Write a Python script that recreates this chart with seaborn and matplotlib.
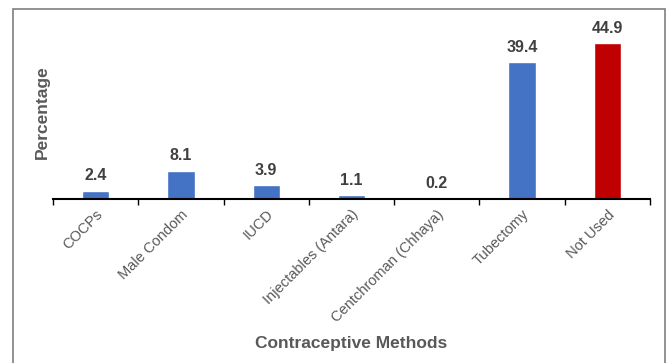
import matplotlib
matplotlib.use("Agg")
import matplotlib.pyplot as plt
import seaborn as sns
import pandas as pd
from matplotlib.patches import Rectangle

methods = ["COCPs", "Male Condom", "IUCD", "Injectables (Antara)",
           "Centchroman (Chhaya)", "Tubectomy", "Not Used"]
percentages = [2.4, 8.1, 3.9, 1.1, 0.2, 39.4, 44.9]
bar_colors = ["#4472C4", "#4472C4", "#4472C4", "#4472C4",
              "#4472C4", "#4472C4", "#C00000"]

df = pd.DataFrame({"Method": methods, "Percentage": percentages})

sns.set_style("white")
plt.rcParams["font.family"] = ["Liberation Sans", "DejaVu Sans"]

fig = plt.figure(figsize=(6.69, 3.63), dpi=100)
ax = fig.add_axes([53 / 669, 1 - 199 / 363, 597 / 669, 173.5 / 363])

sns.barplot(data=df, x="Method", y="Percentage", hue="Method",
            palette=dict(zip(methods, bar_colors)), width=0.32,
            legend=False, ax=ax, saturation=1)

for patch, val in zip(ax.patches, percentages):
    ax.annotate(f"{val:.1f}",
                (patch.get_x() + patch.get_width() / 2, patch.get_height()),
                xytext=(0, 5.5), textcoords="offset points",
                ha="center", va="bottom", fontsize=11.5,
                fontweight="bold", color="#404040")

ax.set_ylim(0, 50)
ax.set_xlim(-0.5, len(methods) - 0.5)
ax.set_yticks([])
for side in ["top", "right", "left"]:
    ax.spines[side].set_visible(False)
ax.spines["bottom"].set_color("black")
ax.spines["bottom"].set_linewidth(1.5)

ax.set_xticks(range(len(methods)))
ax.set_xticklabels(methods, rotation=45, ha="right", rotation_mode="anchor",
                   fontsize=10.5, color="#595959")
ax.tick_params(axis="x", which="major", length=0, pad=6)
ax.set_xticks([i - 0.5 for i in range(len(methods) + 1)], minor=True)
ax.tick_params(axis="x", which="minor", length=4, width=1, color="black",
               direction="out", bottom=True)

ax.set_ylabel("Percentage", fontsize=12.5, fontweight="bold",
              color="#595959", labelpad=2)
ax.set_xlabel("Contraceptive Methods", fontsize=12.5, fontweight="bold",
              color="#595959")
ax.xaxis.set_label_coords(0.5, -0.79)

fig.patches.append(Rectangle((13 / 669, -0.05), 652 / 669, 1 - 9 / 363 + 0.05,
                             transform=fig.transFigure, fill=False,
                             edgecolor="#7F7F7F", linewidth=1.2))

fig.savefig("out.png", dpi=100, facecolor="white")
